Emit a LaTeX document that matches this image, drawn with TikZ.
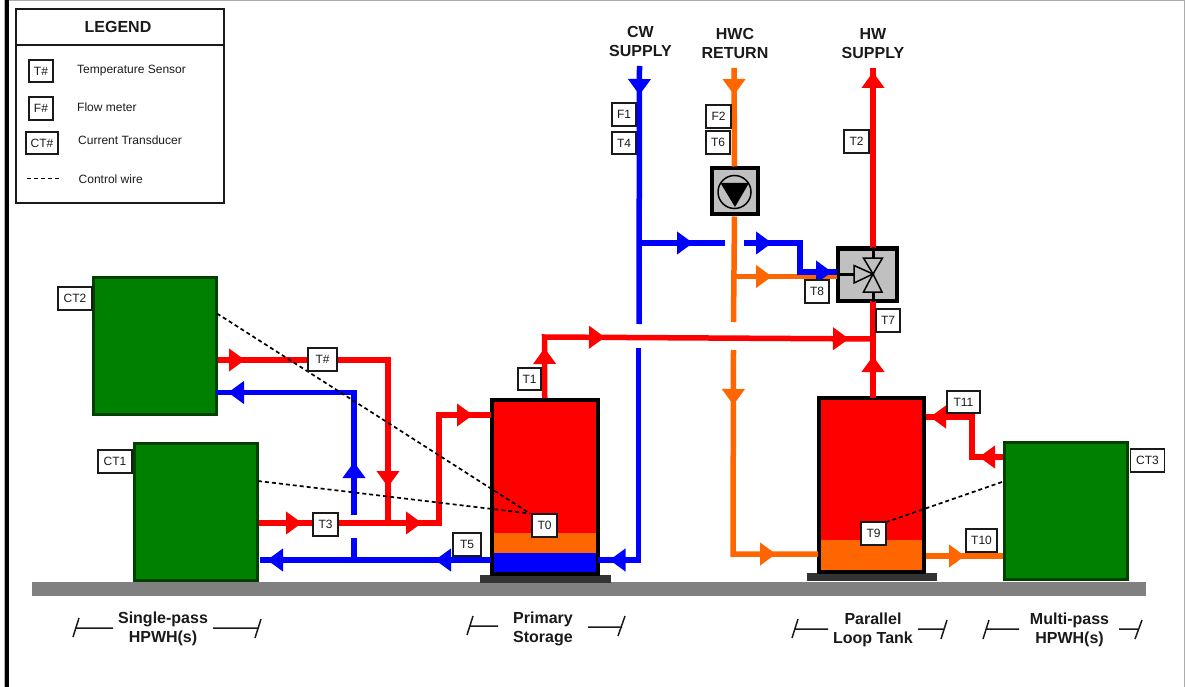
\documentclass[tikz,border=0pt]{standalone}
\usepackage{fontspec}
\setmainfont{Liberation Sans}
\usetikzlibrary{arrows.meta,decorations.markings}
\definecolor{hotred}{HTML}{FF0000}
\definecolor{coldblue}{HTML}{0000FF}
\definecolor{warmorange}{HTML}{FF6600}
\definecolor{hpwhgreen}{HTML}{008000}
\definecolor{hpwhedge}{HTML}{004000}
\definecolor{floorgray}{HTML}{808080}
\definecolor{basedark}{HTML}{333333}
\definecolor{fitting}{HTML}{C0C0C0}
\definecolor{inkdark}{HTML}{1A1A1A}
\tikzset{
  pipe/.style={line width=5.5pt,draw=#1,line join=miter},
  head/.style={postaction={decorate,decoration={markings,mark=at position #1 with {\arrow{Triangle[length=16pt,width=22pt]}}}}},
  sensor/.style={draw=inkdark,fill=white,line width=1.8pt,inner sep=0pt,minimum width=#1,minimum height=22.5pt,text=inkdark,font=\fontsize{12}{14}\selectfont},
  sensor/.default=24.5pt,
  hpwh/.style={draw=hpwhedge,fill=hpwhgreen,line width=3pt,minimum width=123pt,minimum height=137pt,inner sep=0pt},
  tankbox/.style={draw=black,line width=4pt,inner sep=0pt,minimum width=105.5pt,minimum height=174pt},
  fittingbox/.style={draw=black,fill=fitting,line width=4pt,inner sep=0pt},
  wire/.style={draw=black,line width=1.7pt,dash pattern=on 4pt off 3pt},
  caption/.style={font=\bfseries\fontsize{16}{19}\selectfont,align=center,text=inkdark,inner sep=0pt},
  legendtext/.style={anchor=west,inner sep=0pt,text=inkdark,font=\fontsize{12}{14}\selectfont},
  bracket/.style={draw=inkdark,line width=1.5pt},
}
\begin{document}
\begin{tikzpicture}[x=1pt,y=-1pt]
\useasboundingbox (0,0) rectangle (1186,687);
% page frame
\draw[gray!65,line width=1.5pt] (9,0.7) -- (1184.5,0.7) -- (1184.5,687);
\draw[gray!60,line width=1pt] (4,0) -- (4,687);
\draw[black,line width=4pt] (7,0) -- (7,687);
% legend
\node[draw=inkdark,line width=1.7pt,minimum width=208pt,minimum height=194pt,inner sep=0pt] (legend) at (120,106) {};
\coordinate (divL) at (16,45);
\coordinate (divR) at (224,45);
\draw[inkdark,line width=1.7pt] (divL) -- (divR);
\node[caption] (legendtitle) at (118,26.5) {LEGEND};
\node[sensor] (lgT) at (41,71) {T\#};
\node[sensor] (lgF) at (41,108.5) {F\#};
\node[sensor=32pt] (lgCT) at (42,143) {CT\#};
\node[legendtext] (lgTt) at (77,70.5) {Temperature Sensor};
\node[legendtext] (lgFt) at (77,107.5) {Flow meter};
\node[legendtext] (lgCTt) at (78,140.5) {Current Transducer};
\node[legendtext] (lgWt) at (78.5,179) {Control wire};
\coordinate (lgW1) at (27,178.5);
\coordinate (lgW2) at (61,178.5);
\draw[wire] (lgW1) -- (lgW2);
% floor and tank bases
\fill[floorgray] (32,581.5) rectangle (1146,595.5);
\fill[basedark] (480,575) rectangle (611,583);
\fill[basedark] (807,573) rectangle (937,581);
% heat pumps
\node[hpwh] (hp2) at (155,345.5) {};
\node[hpwh] (hp1) at (196,512) {};
\node[hpwh] (hp3) at (1066,511) {};
% tanks
\fill[hotred] (492,400) rectangle (597,533);
\fill[warmorange] (492,533) rectangle (597,553);
\fill[coldblue] (492,553) rectangle (597,574);
\node[tankbox] (primary) at (544.75,487) {};
\fill[hotred] (819,398) rectangle (924,540);
\fill[warmorange] (819,540) rectangle (924,572);
\node[tankbox] (parallel) at (871.5,485) {};
% pump and mixing valve
\node[fittingbox,minimum width=46pt,minimum height=46pt] (pump) at (734.5,191.5) {};
\node[fittingbox,minimum width=59pt,minimum height=52pt] (valve) at (867.5,274.5) {};
% named pipe points
\coordinate (cwTop) at (639.5,66);
\coordinate (cwGapA) at (639,324);
\coordinate (cwGapB) at (638.5,348);
\coordinate (cwFoot) at (638.5,560);
\coordinate (primE) at (598,560);
\coordinate (cwTee) at (639.5,243);
\coordinate (cbA) at (725,243);
\coordinate (cbB) at (744,243);
\coordinate (cbC) at (800,243);
\coordinate (cbD) at (800,272);
\coordinate (cbE) at (837,272);
\coordinate (hwcTop) at (734,68);
\coordinate (hwcGapA) at (733.5,322);
\coordinate (hwcGapB) at (733.5,350);
\coordinate (hwcFoot) at (733,554);
\coordinate (parW) at (818,554);
\coordinate (obA) at (734,276.5);
\coordinate (obB) at (837,276.5);
\coordinate (hwTop) at (873,68);
\coordinate (hwV) at (873,248);
\coordinate (hwV2) at (873,301);
\coordinate (parN) at (873,398);
\coordinate (priC) at (544.5,337);
\coordinate (hwJoin) at (873,339);
\coordinate (hp2out) at (218,360);
\coordinate (hp2c) at (388,360);
\coordinate (hp2d) at (388,523);
\coordinate (hp1out) at (259,523);
\coordinate (hp1c) at (439,523);
\coordinate (hp1d) at (439,415);
\coordinate (primW) at (491,415);
\coordinate (primWb) at (491,560);
\coordinate (hp1in) at (260,560);
\coordinate (bvFoot) at (354,560);
\coordinate (bvGap) at (354,538);
\coordinate (bvUp) at (354,515);
\coordinate (bvC) at (354,392.5);
\coordinate (hp2in) at (216,392.5);
\coordinate (h3out) at (1003,457);
\coordinate (h3b) at (972,457);
\coordinate (h3c) at (972,417);
\coordinate (parE) at (926,417);
\coordinate (parEb) at (926,556);
\coordinate (h3in) at (1003,556);
% orange pipes
\draw[pipe=warmorange,head=27pt] (hwcTop) -- (pump.north);
\draw[pipe=warmorange] (pump.south) -- (hwcGapA);
\draw[pipe=warmorange,head=38pt] (obA) -- (obB);
\draw[pipe=warmorange,head=55pt,head=247pt] (hwcGapB) -- (hwcFoot) -- (parW);
\draw[pipe=warmorange,head=39pt] (parEb) -- (h3in);
% blue pipes
\draw[pipe=coldblue,head=29pt] (cwTop) -- (cwGapA);
\draw[pipe=coldblue,head=241pt] (cwGapB) -- (cwFoot) -- (primE);
\draw[pipe=coldblue,head=53.5pt] (cwTee) -- (cbA);
\draw[pipe=coldblue,head=28pt,head=117pt] (cbB) -- (cbC) -- (cbD) -- (cbE);
\draw[pipe=coldblue,head=56pt,head=224pt] (primWb) -- (hp1in);
\draw[pipe=coldblue] (bvFoot) -- (bvGap);
\draw[pipe=coldblue,head=53pt,head=248.5pt] (bvUp) -- (bvC) -- (hp2in);
% red pipes
\draw[pipe=hotred,head=176pt] (hwV) -- (hwTop);
\draw[pipe=hotred,head=42pt] (parN) -- (hwV2);
\draw[pipe=hotred,head=50pt,head=121.5pt,head=365.5pt] (primary.north) -- (priC) -- (hwJoin);
\draw[pipe=hotred,head=27pt,head=297pt] (hp2out) -- (hp2c) -- (hp2d);
\draw[pipe=hotred,head=43pt,head=163pt,head=322pt] (hp1out) -- (hp1c) -- (hp1d) -- (primW);
\draw[pipe=hotred,head=24pt,head=113pt] (h3out) -- (h3b) -- (h3c) -- (parE);
% pump symbol
\begin{scope}[shift={(734.5,192)}]
\draw[black,line width=1.5pt] (0,0) circle[radius=16.5pt];
\fill[black] (-14,-9) -- (14.5,-9) -- (0.5,15) -- cycle;
\end{scope}
% valve symbol
\begin{scope}[shift={(873,274)},line width=1.5pt]
\draw[black,line width=3pt] (0,-27) -- (0,-15);
\draw[black,line width=3pt] (0,18) -- (0,28);
\draw[black,line width=3pt] (-36,0) -- (-19,0);
\draw[black,fill=fitting] (-9.5,-16) -- (9.5,-16) -- (0,0) -- cycle;
\draw[black,fill=fitting] (-9.5,18) -- (9,18) -- (0,0) -- cycle;
\draw[black,fill=fitting] (-19,-8.5) -- (-19,9) -- (0,0) -- cycle;
\end{scope}
% control wires
\coordinate (w2) at (217,313.5);
\coordinate (w1) at (258,481);
\coordinate (w3) at (1002,482);
\coordinate (w0) at (530,513.5);
\coordinate (w9) at (885,522.5);
\draw[wire] (w2) -- (w0);
\draw[wire] (w1) -- (w0);
\draw[wire] (w3) -- (w9);
% sensors
\node[sensor=24pt] (F1) at (624,114.5) {F1};
\node[sensor=24pt] (T4) at (624,143) {T4};
\node[sensor] (F2) at (718.5,116.5) {F2};
\node[sensor=24pt] (T6) at (718,142.5) {T6};
\node[sensor] (T2) at (856.5,141.5) {T2};
\node[sensor=24pt] (T8) at (817,291.5) {T8};
\node[sensor=24pt] (T7) at (888,320.5) {T7};
\node[sensor=23.5pt] (T1) at (529.5,379) {T1};
\node[sensor=28pt] (T5) at (467,544.5) {T5};
\node[sensor=29pt] (Tp) at (322.5,359.5) {T\#};
\node[sensor] (T3) at (325.5,524.5) {T3};
\node[sensor=34pt] (CT2) at (75,298.5) {CT2};
\node[sensor=34pt] (CT1) at (115,461.5) {CT1};
\node[sensor=34pt] (CT3) at (1147.5,460.5) {CT3};
\node[sensor=33pt] (T11) at (963.5,402) {T11};
\node[sensor=31pt] (T10) at (981.5,540.5) {T10};
\node[sensor] (T0) at (544.5,525.5) {T0};
\node[sensor] (T9) at (873.5,533.5) {T9};
% captions
\node[caption] (capCW) at (640.5,41) {CW\\SUPPLY};
\node[caption] (capHWC) at (735,43.5) {HWC\\RETURN};
\node[caption] (capHW) at (873,44) {HW\\SUPPLY};
\node[caption] (capS) at (163,628.5) {Single-pass\\HPWH(s)};
\node[caption] (capP) at (543,629) {Primary\\Storage};
\node[caption] (capL) at (873,630) {Parallel\\Loop Tank};
\node[caption] (capM) at (1069.5,630) {Multi-pass\\HPWH(s)};
% dimension brackets
\draw[bracket] (79,618) -- (73,637) (76,628) -- (113,628) (213,628) -- (258,628) (261,619) -- (255,638);
\draw[bracket] (473,616) -- (467,635) (469.5,626) -- (498,626) (588,627) -- (622,627) (625,616) -- (618,636);
\draw[bracket] (798,619) -- (792,638) (795,629) -- (828,629) (918,629) -- (944,629) (947,620) -- (941,639);
\draw[bracket] (989,620) -- (983,639) (986,629) -- (1019,629) (1119,629) -- (1139,629) (1142,620) -- (1135,639);
\end{tikzpicture}
\end{document}
